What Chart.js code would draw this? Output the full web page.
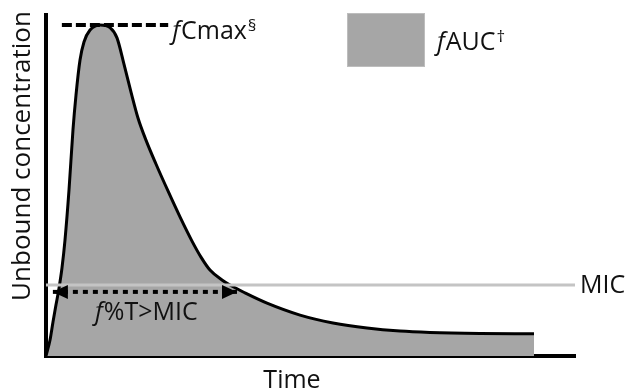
<!DOCTYPE html>
<html>
<head>
<meta charset="utf-8">
<title>fAUC / fCmax / f%T>MIC</title>
<script src="https://cdn.jsdelivr.net/npm/chart.js@4.4.1/dist/chart.umd.min.js"></script>
<style>
  html, body { margin: 0; padding: 0; background: #fff; }
  #wrap { width: 630px; height: 391px; position: relative; }
</style>
</head>
<body>
<div id="wrap"><canvas id="pk-chart"></canvas></div>
<script>
// concentration-time curve (arbitrary units)
var time = [0, 0.76, 1.32, 1.89, 2.46, 3.02, 3.59, 4.35, 5.10, 5.67, 6.43, 7.18, 8.32, 10.21,
    12.10, 13.42, 14.74, 16.07, 17.39, 18.90, 20.79, 23.06, 25.33, 27.60, 29.30, 31.00,
    33.27, 34.78, 37.62, 41.78, 48.02, 54.25, 60.68, 66.92, 72.59, 82.04, 92.25];
var concentration = [0, 4.7, 10.0, 15.0, 19.9, 25.8, 34.0, 48.7, 66.3, 76.5, 86.8, 92.1, 95.6, 97.1,
    96.3, 93.3, 85.6, 77.4, 69.8, 63.3, 56.3, 48.4, 40.8, 33.7, 29.0, 25.2,
    22.3, 20.8, 18.5, 15.5, 12.0, 9.7, 8.2, 7.3, 6.9, 6.6, 6.5];

var micLevel = 20.8;
var micRange = [0, 100];
var cmaxLevel = 97.1;
var cmaxRange = [3.0, 23.1];
var timeAboveMic = [1.3, 36.1];
var arrowLevel = 18.8;

var FONT = '"Open Sans", "Liberation Sans", sans-serif';
var GREY = '#a6a6a6';

function pts(xs, ys) {
    return xs.map(function(x, i) { return { x: x, y: ys[i] }; });
}
function flat(range, level) {
    return range.map(function(x) { return { x: x, y: level }; });
}

// italic "f" + label + optional superscript
function fLabel(ctx, x, y, rest, sup) {
    ctx.textAlign = 'left';
    ctx.textBaseline = 'alphabetic';
    ctx.font = 'italic 25px ' + FONT;
    ctx.fillText('f', x, y);
    x += ctx.measureText('f').width + 1;
    ctx.font = '25px ' + FONT;
    ctx.fillText(rest, x, y);
    x += ctx.measureText(rest).width + 1;
    if (sup) {
        ctx.font = '17px ' + FONT;
        ctx.fillText(sup, x, y - 8);
    }
}

var annotations = {
    id: 'pkAnnotations',
    afterDatasetsDraw: function(chart) {
        var ctx = chart.ctx;
        // arrow heads on both ends of the dotted line
        var meta = chart.getDatasetMeta(2);
        var a = meta.data[0], b = meta.data[meta.data.length - 1];
        ctx.save();
        ctx.fillStyle = '#000';
        [[a, 1], [b, -1]].forEach(function(p) {
            var el = p[0], dir = p[1];
            ctx.beginPath();
            ctx.moveTo(el.x, el.y);
            ctx.lineTo(el.x + dir * 15, el.y - 7);
            ctx.lineTo(el.x + dir * 15, el.y + 7);
            ctx.closePath();
            ctx.fill();
        });
        ctx.restore();
    },
    afterDraw: function(chart) {
        var ctx = chart.ctx;
        var xs = chart.scales.x, ys = chart.scales.y;
        ctx.save();
        ctx.fillStyle = '#111';

        // axis titles
        ctx.font = '25px ' + FONT;
        ctx.textAlign = 'center';
        ctx.textBaseline = 'alphabetic';
        ctx.fillText('Time', 292, 388);
        ctx.save();
        ctx.translate(30, 156);
        ctx.rotate(-Math.PI / 2);
        ctx.font = '26px ' + FONT;
        ctx.fillText('Unbound concentration', 0, 0);
        ctx.restore();

        // MIC label at the end of the MIC line
        ctx.textAlign = 'left';
        ctx.fillText('MIC', xs.getPixelForValue(micRange[1]) + 5, ys.getPixelForValue(micLevel) + 8);

        // fCmax label at the end of the dashed line
        fLabel(ctx, xs.getPixelForValue(cmaxRange[1]) + 4, ys.getPixelForValue(cmaxLevel) + 14, 'Cmax', '§');

        // f%T>MIC under the arrow
        fLabel(ctx, 95, ys.getPixelForValue(arrowLevel) + 28, '%T>MIC');

        // legend swatch
        ctx.fillStyle = GREY;
        ctx.fillRect(347, 13, 78, 54);
        ctx.strokeStyle = '#bdbdbd';
        ctx.lineWidth = 1;
        ctx.strokeRect(347.5, 13.5, 77, 53);
        ctx.fillStyle = '#111';
        fLabel(ctx, 437, 50, 'AUC', '†');

        ctx.restore();
    }
};

var ctx = document.getElementById('pk-chart').getContext('2d');

new Chart(ctx, {
    type: 'line',
    data: {
        datasets: [{
            label: 'fAUC',
            data: pts(time, concentration),
            borderColor: '#000',
            borderWidth: 3,
            backgroundColor: GREY,
            fill: 'origin',
            cubicInterpolationMode: 'monotone',
            pointRadius: 0,
            order: 4
        }, {
            label: 'MIC',
            data: flat(micRange, micLevel),
            borderColor: '#c4c4c4',
            borderWidth: 3,
            fill: false,
            pointRadius: 0,
            order: 3
        }, {
            label: 'f%T>MIC',
            data: flat(timeAboveMic, arrowLevel),
            borderColor: '#000',
            borderWidth: 4,
            borderDash: [5, 5],
            borderCapStyle: 'butt',
            fill: false,
            pointRadius: 0,
            order: 2
        }, {
            label: 'fCmax',
            data: flat(cmaxRange, cmaxLevel),
            borderColor: '#000',
            borderWidth: 4,
            borderDash: [10, 4],
            borderCapStyle: 'butt',
            fill: false,
            pointRadius: 0,
            order: 1
        }]
    },
    options: {
        responsive: true,
        maintainAspectRatio: false,
        animation: false,
        layout: {
            padding: { left: 46, right: 55, top: 15, bottom: 35 }
        },
        plugins: {
            legend: { display: false },
            tooltip: { enabled: false }
        },
        scales: {
            x: {
                type: 'linear',
                min: 0,
                max: 100,
                grid: { display: false, drawTicks: false },
                ticks: { display: false },
                border: { display: true, color: '#000', width: 4 }
            },
            y: {
                min: 0,
                max: 100,
                grid: { display: false, drawTicks: false },
                ticks: { display: false },
                border: { display: true, color: '#000', width: 4 }
            }
        }
    },
    plugins: [annotations]
});
</script>
</body>
</html>
